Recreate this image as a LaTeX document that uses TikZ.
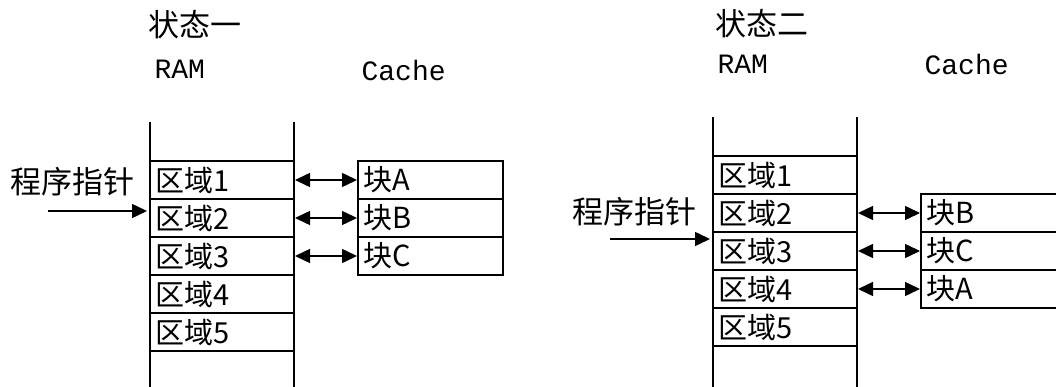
\documentclass[tikz,border=0pt]{standalone}
\usepackage{fontspec}
\setmainfont{Noto Sans CJK SC}
\newfontfamily\latinmono{Liberation Mono}
\usetikzlibrary{arrows.meta,calc}
\begin{document}
\begin{tikzpicture}[x=1pt,y=-1pt,line width=1.2pt,
 cell/.style={draw,anchor=north west,minimum width=144pt,minimum height=38pt,inner xsep=5pt,inner ysep=0pt,text width=134pt,align=left,font=\fontsize{29}{29}\selectfont,outer sep=0pt},
 ccell/.style={cell,minimum width=145pt,text width=135pt},
 title/.style={anchor=west,inner sep=0pt,font=\fontsize{31}{31}\selectfont},
 head/.style={anchor=west,inner sep=0pt,font=\latinmono\fontsize{28}{28}\selectfont},
 link/.style={{Triangle[length=15pt,width=14pt]}-{Triangle[length=15pt,width=14pt]},line width=1.5pt,shorten <=1pt,shorten >=1pt},
 ptr/.style={-{Triangle[length=15pt,width=14pt]},line width=1.5pt}]
\useasboundingbox (0,0) rectangle (1056,387);
\clip (0,0) rectangle (1056,387);
% ---------- State 1 ----------
\node[title] (t1) at (148,25) {状态一};
\node[head] (ram1) at (154,69) {RAM};
\node[head] (cache1) at (361,70) {Cache};
\coordinate (a1) at (150,122); \coordinate (a2) at (150,392);
\coordinate (b1) at (294,122); \coordinate (b2) at (294,392);
\draw (a1) -- (a2); \draw (b1) -- (b2);
\node[cell] (l1) at (150,161) {区域1};
\node[cell] (l2) at (150,199) {区域2};
\node[cell] (l3) at (150,237) {区域3};
\node[cell] (l4) at (150,275) {区域4};
\node[cell] (l5) at (150,313) {区域5};
\node[ccell] (lA) at (358,161) {块A};
\node[ccell] (lB) at (358,199) {块B};
\node[ccell] (lC) at (358,237) {块C};
\draw[link] (l1.east) -- (lA.west);
\draw[link] (l2.east) -- (lB.west);
\draw[link] (l3.east) -- (lC.west);
\node[title] (p1) at (10,182) {程序指针};
\coordinate (q1) at (48,211);
\draw[ptr,shorten >=3pt] (q1) -- (q1 -| l2.west);
% ---------- State 2 ----------
\node[title] (t2) at (715,24) {状态二};
\node[head] (ram2) at (717,64) {RAM};
\node[head] (cache2) at (924,64) {Cache};
\coordinate (c1) at (713,117); \coordinate (c2) at (713,392);
\coordinate (d1) at (857,117); \coordinate (d2) at (857,392);
\draw (c1) -- (c2); \draw (d1) -- (d2);
\node[cell] (r1) at (713,156) {区域1};
\node[cell] (r2) at (713,194) {区域2};
\node[cell] (r3) at (713,232) {区域3};
\node[cell] (r4) at (713,270) {区域4};
\node[cell] (r5) at (713,308) {区域5};
\node[ccell] (rB) at (921,194) {块B};
\node[ccell] (rC) at (921,232) {块C};
\node[ccell] (rA) at (921,270) {块A};
\draw[link] (r2.east) -- (rB.west);
\draw[link] (r3.east) -- (rC.west);
\draw[link] (r4.east) -- (rA.west);
\node[title] (p2) at (572,212) {程序指针};
\coordinate (q2) at (610,239);
\draw[ptr,shorten >=3pt] (q2) -- (q2 -| r3.west);
\end{tikzpicture}
\end{document}
